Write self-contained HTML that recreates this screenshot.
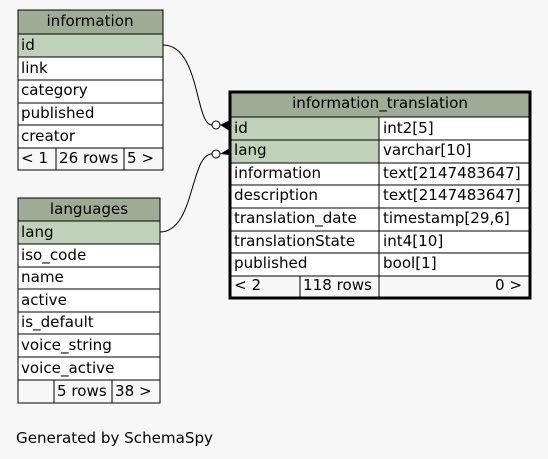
<!DOCTYPE html>
<html><head><style>
html,body{margin:0;padding:0;background:#f7f7f7;width:548px;height:459px;overflow:hidden}
svg text{font-family:"DejaVu Sans","Liberation Sans",sans-serif;font-size:15.1px;fill:#000}
</style></head><body>
<svg width="548" height="459" xmlns="http://www.w3.org/2000/svg">
<rect width="548" height="459" fill="#f7f7f7"/>
<path d="M163,45 C200,45 195,125 212,125" fill="none" stroke="#000" stroke-width="1"/>
<path d="M160,232 C195,232 190,154 212,154" fill="none" stroke="#000" stroke-width="1"/>
<circle cx="216" cy="125" r="4" fill="#fff" stroke="#000"/>
<circle cx="216" cy="154" r="4" fill="#fff" stroke="#000"/>
<polygon points="220,125 230,120 230,131" fill="#000"/>
<polygon points="220,154 230,148 230,155" fill="#000"/>

<g stroke="#000" stroke-width="1">
<rect x="18" y="10" width="145" height="24" fill="#9eac96"/>
<rect x="18" y="34" width="145" height="23" fill="#bfd1b8"/>
<rect x="18" y="57" width="145" height="23" fill="#fff"/>
<rect x="18" y="80" width="145" height="23" fill="#fff"/>
<rect x="18" y="103" width="145" height="22" fill="#fff"/>
<rect x="18" y="125" width="145" height="23" fill="#fff"/>
<rect x="18" y="148" width="145" height="22" fill="#f7f7f7"/>
<line x1="56" y1="148" x2="56" y2="170"/><line x1="124" y1="148" x2="124" y2="170"/>
</g>
<text x="90" y="26" text-anchor="middle">information</text>
<text x="21" y="50">id</text><text x="21" y="73">link</text><text x="21" y="95">category</text>
<text x="21" y="118">published</text><text x="21" y="141">creator</text>
<text x="21" y="163">&lt; 1</text><text x="59" y="163">26 rows</text><text x="127" y="163">5 &gt;</text>

<g stroke="#000" stroke-width="1">
<rect x="18" y="198" width="142" height="23" fill="#9eac96"/>
<rect x="18" y="221" width="142" height="23" fill="#bfd1b8"/>
<rect x="18" y="244" width="142" height="23" fill="#fff"/>
<rect x="18" y="267" width="142" height="22" fill="#fff"/>
<rect x="18" y="289" width="142" height="23" fill="#fff"/>
<rect x="18" y="312" width="142" height="22" fill="#fff"/>
<rect x="18" y="334" width="142" height="23" fill="#fff"/>
<rect x="18" y="357" width="142" height="23" fill="#fff"/>
<rect x="18" y="380" width="142" height="23" fill="#f7f7f7"/>
<line x1="54" y1="380" x2="54" y2="403"/><line x1="112" y1="380" x2="112" y2="403"/>
</g>
<text x="89" y="214" text-anchor="middle">languages</text>
<text x="21" y="237">lang</text><text x="21" y="260">iso_code</text><text x="21" y="282">name</text>
<text x="21" y="305">active</text><text x="21" y="327">is_default</text><text x="21" y="350">voice_string</text>
<text x="21" y="373">voice_active</text>
<text x="57" y="396">5 rows</text><text x="115" y="396">38 &gt;</text>

<g stroke="#000" stroke-width="1">
<rect x="230" y="92" width="300" height="25" fill="#9eac96"/>
<rect x="230" y="117" width="149" height="23" fill="#bfd1b8"/><rect x="379" y="117" width="151" height="23" fill="#fff"/>
<rect x="230" y="140" width="149" height="23" fill="#bfd1b8"/><rect x="379" y="140" width="151" height="23" fill="#fff"/>
<rect x="230" y="163" width="149" height="22" fill="#fff"/><rect x="379" y="163" width="151" height="22" fill="#fff"/>
<rect x="230" y="185" width="149" height="23" fill="#fff"/><rect x="379" y="185" width="151" height="23" fill="#fff"/>
<rect x="230" y="208" width="149" height="23" fill="#fff"/><rect x="379" y="208" width="151" height="23" fill="#fff"/>
<rect x="230" y="231" width="149" height="22" fill="#fff"/><rect x="379" y="231" width="151" height="22" fill="#fff"/>
<rect x="230" y="253" width="149" height="23" fill="#fff"/><rect x="379" y="253" width="151" height="23" fill="#fff"/>
<rect x="230" y="276" width="300" height="22" fill="#f7f7f7"/>
<line x1="300" y1="276" x2="300" y2="298"/><line x1="379" y1="276" x2="379" y2="298"/>
</g>
<rect x="230" y="92" width="300" height="206" fill="none" stroke="#000" stroke-width="3"/>
<text x="380" y="108" text-anchor="middle">information_translation</text>
<text x="234" y="133">id</text><text x="383" y="133">int2[5]</text>
<text x="234" y="155">lang</text><text x="383" y="155">varchar[10]</text>
<text x="234" y="178">information</text><text x="383" y="178">text[2147483647]</text>
<text x="234" y="200">description</text><text x="383" y="200">text[2147483647]</text>
<text x="234" y="223">translation_date</text><text x="383" y="223">timestamp[29,6]</text>
<text x="234" y="246">translationState</text><text x="383" y="246">int4[10]</text>
<text x="234" y="268">published</text><text x="383" y="268">bool[1]</text>
<text x="234" y="290">&lt; 2</text><text x="303" y="290">118 rows</text><text x="522" y="290" text-anchor="end">0 &gt;</text>

<text x="16" y="443">Generated by SchemaSpy</text>
</svg>
</body></html>
